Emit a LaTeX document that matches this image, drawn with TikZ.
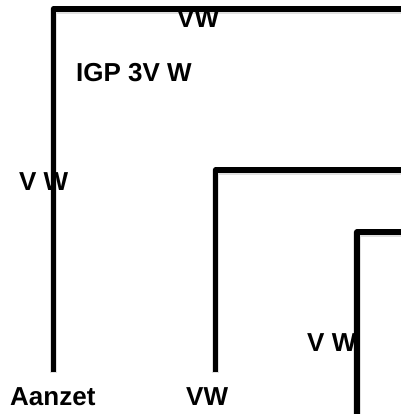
\documentclass[tikz,border=0pt]{standalone}
\usepackage{fontspec}
\setmainfont{Liberation Sans}
\tikzset{
  lbl/.style={font=\fontsize{26}{30}\selectfont\bfseries, inner sep=0pt, text=black},
  wire/.style={line width=5.6pt, black, line cap=butt, line join=round},
  wireshadow/.style={line width=7.6pt, black!12, line cap=butt, line join=round}
}
\begin{document}
\begin{tikzpicture}[x=1pt,y=-1pt]
\useasboundingbox (0,0) rectangle (401,414);
\coordinate (a1) at (53.3,372);
\coordinate (a2) at (53.3,8.8);
\coordinate (a3) at (401,8.8);
\coordinate (b1) at (215.5,372);
\coordinate (b2) at (215.5,170);
\coordinate (b3) at (401,170);
\coordinate (c1) at (357,414);
\coordinate (c2) at (357,232);
\coordinate (c3) at (401,232);
\draw[wireshadow] ([yshift=-1pt]a1) -- ([yshift=-1pt]a2) -- ([yshift=-1pt]a3);
\draw[wireshadow] ([yshift=-1pt]b1) -- ([yshift=-1pt]b2) -- ([yshift=-1pt]b3);
\draw[wireshadow] ([yshift=-1pt]c1) -- ([yshift=-1pt]c2) -- ([yshift=-1pt]c3);
\node[lbl,anchor=base west] (topvw) at (177,28) {VW};
\node[lbl,anchor=base west] (igp) at (76,82) {IGP 3V W};
\node[lbl,anchor=base west] (leftvw) at (19,190) {V W};
\draw[wire] (a1) -- (a2) -- (a3);
\draw[wire] (b1) -- (b2) -- (b3);
\draw[wire] (c1) -- (c2) -- (c3);
\node[lbl,anchor=base west] (midvw) at (307,351) {V W};
\node[lbl,anchor=base west] (aanzet) at (10,405) {Aanzet};
\node[lbl,anchor=base west] (botvw) at (186,405) {VW};
\end{tikzpicture}
\end{document}
